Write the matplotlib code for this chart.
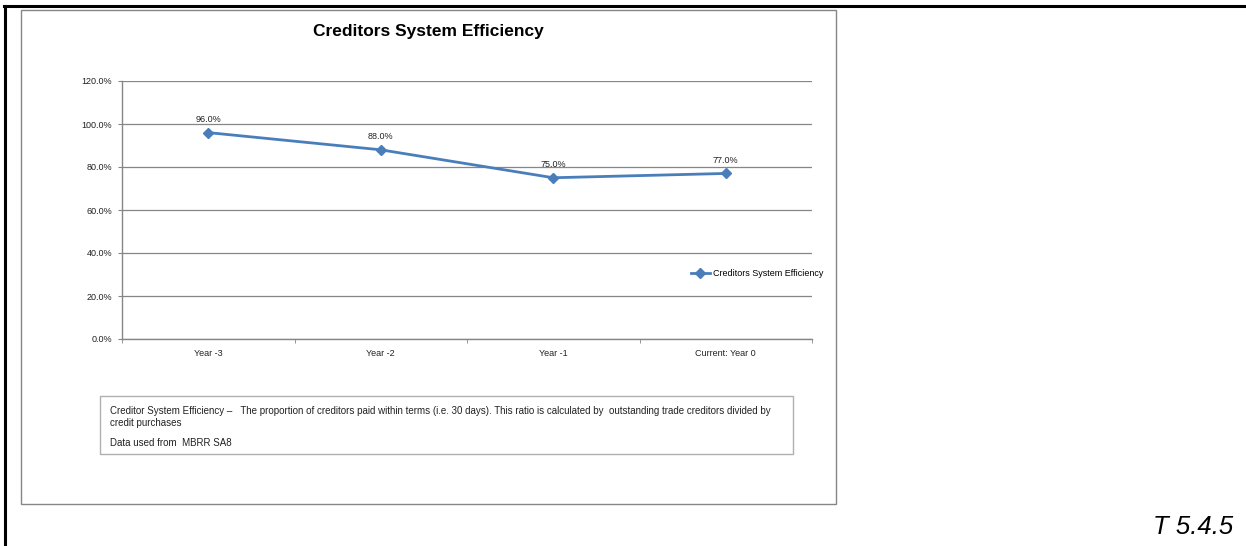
import matplotlib
matplotlib.use("Agg")
import matplotlib.pyplot as plt
from matplotlib.patches import Rectangle
from matplotlib.lines import Line2D
from matplotlib.ticker import FixedLocator, PercentFormatter

plt.rcParams["font.family"] = ["Liberation Sans", "DejaVu Sans"]

categories = ["Year -3", "Year -2", "Year -1", "Current: Year 0"]
efficiency = [0.96, 0.88, 0.75, 0.77]
series_name = "Creditors System Efficiency"
yticks = [0.0, 0.2, 0.4, 0.6, 0.8, 1.0, 1.2]

W, H = 1246, 546
LINE = "#4a7ebb"
GRID = "#868686"


def fx(px):
    return px / W


def fy(py):
    return 1 - py / H


fig = plt.figure(figsize=(W / 100, H / 100), dpi=100)
fig.patch.set_facecolor("white")

# outer page frame (top + left thick black lines)
fig.add_artist(Line2D([fx(4), 1], [fy(5.5), fy(5.5)], color="black", lw=2.2,
                      transform=fig.transFigure))
fig.add_artist(Line2D([fx(4.5), fx(4.5)], [fy(5.5), 0], color="black", lw=2.2,
                      transform=fig.transFigure))

# chart area border
fig.add_artist(Rectangle((fx(20.5), fy(504)), fx(836) - fx(20.5), fy(10) - fy(504),
                         transform=fig.transFigure, fill=False, ec=GRID, lw=1.0))

ax = fig.add_axes([fx(122), fy(339), fx(812) - fx(122), fy(81) - fy(339)])
x = range(len(categories))
ax.plot(x, efficiency, color=LINE, lw=2.0, marker="D", ms=5.5,
        mec=LINE, mfc=LINE, label=series_name)
for xi, v in zip(x, efficiency):
    ax.annotate(f"{v*100:.1f}%", (xi, v), xytext=(0, 6), textcoords="offset points",
                ha="center", va="bottom", fontsize=6.5, color="#222222")

ax.set_xlim(-0.5, len(categories) - 0.5)
ax.set_ylim(0, 1.2)
ax.set_yticks(yticks)
ax.yaxis.set_major_formatter(PercentFormatter(1.0, decimals=1))
ax.set_xticks(list(x))
ax.set_xticklabels(categories)
ax.xaxis.set_minor_locator(FixedLocator([i - 0.5 for i in range(len(categories) + 1)]))
ax.tick_params(axis="x", which="major", length=0, pad=7, labelsize=6.5, labelcolor="#222222")
ax.tick_params(axis="x", which="minor", length=3, color=GRID, direction="out")
ax.tick_params(axis="y", length=3, color=GRID, pad=4, labelsize=6.5, labelcolor="#222222")
ax.yaxis.grid(True, color=GRID, lw=0.9)
ax.set_axisbelow(True)
for s in ("top", "right"):
    ax.spines[s].set_visible(False)
for s in ("left", "bottom"):
    ax.spines[s].set_color(GRID)
    ax.spines[s].set_linewidth(1.0)

leg = ax.legend(loc="center left", bbox_to_anchor=(fx(686), fy(274)),
                bbox_transform=fig.transFigure, frameon=False, fontsize=6.5,
                handlelength=2.2, handletextpad=0.3, borderpad=0)

fig.text(fx(428), fy(31.5), "Creditors System Efficiency", ha="center", va="center",
         fontsize=12.5, fontweight="bold")

# description box
fig.add_artist(Rectangle((fx(100), fy(454)), fx(793) - fx(100), fy(396) - fy(454),
                         transform=fig.transFigure, fill=False, ec="#b0b0b0", lw=1.0))
fig.text(fx(110), fy(411.5),
         "Creditor System Efficiency \u2013   The proportion of creditors paid within terms "
         "(i.e. 30 days). This ratio is calculated by  outstanding trade creditors divided by",
         ha="left", va="center", fontsize=7.0, color="#222222")
fig.text(fx(110), fy(422.5), "credit purchases", ha="left", va="center",
         fontsize=7.0, color="#222222")
fig.text(fx(110), fy(443), "Data used from  MBRR SA8", ha="left", va="center",
         fontsize=7.0, color="#222222")

fig.text(fx(1233), fy(527), "T 5.4.5", ha="right", va="center", fontsize=18.5,
         style="italic")

fig.savefig("out.png", dpi=100, facecolor="white")
